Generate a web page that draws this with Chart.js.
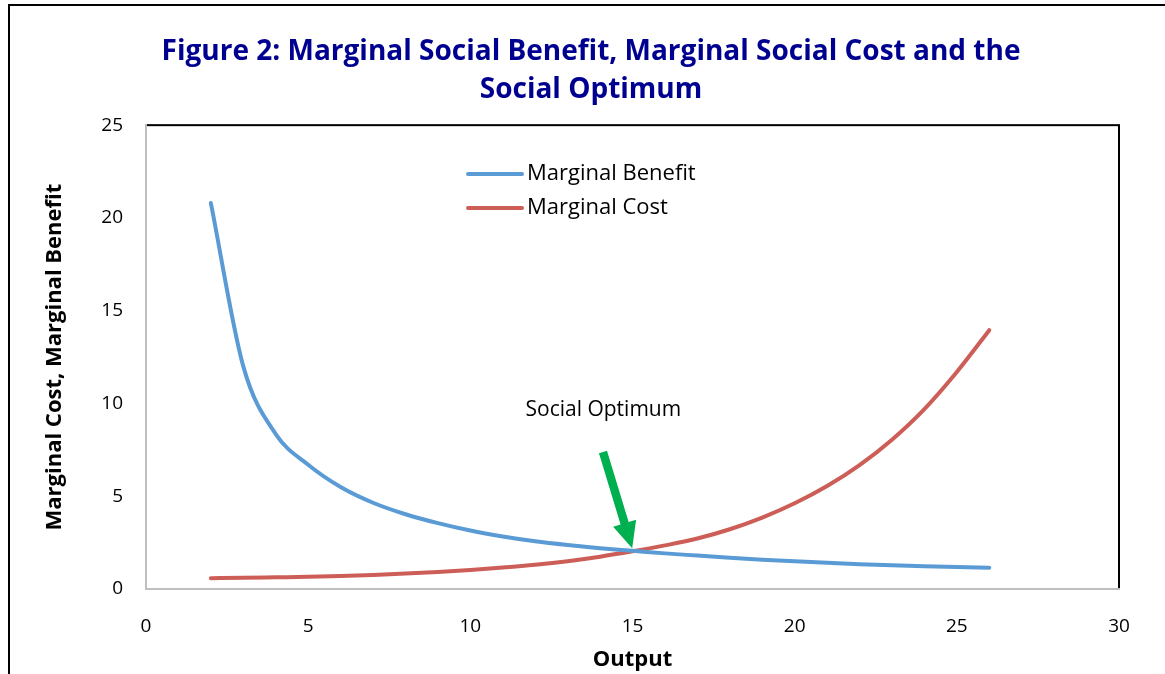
<!DOCTYPE html>
<html>
<head>
<meta charset="utf-8">
<script src="https://cdn.jsdelivr.net/npm/chart.js@4.4.1/dist/chart.umd.min.js"></script>
<style>
  html, body { margin: 0; padding: 0; background: #fff; }
  #wrap { width: 1165px; height: 674px; }
</style>
</head>
<body>
<div id="wrap"><canvas id="socialChart"></canvas></div>
<script>
// values
const outputs = [2, 3, 4, 5, 6, 7, 8, 9, 10, 11, 12, 13, 14, 15, 16, 17, 18, 19, 20, 21, 22, 23, 24, 25, 26];
const marginalBenefit = [20.8, 12.0, 8.35, 6.7, 5.5, 4.65, 4.03, 3.55, 3.15, 2.83, 2.57, 2.37, 2.2, 2.06, 1.92, 1.8, 1.68, 1.58, 1.49, 1.41, 1.34, 1.28, 1.23, 1.19, 1.15];
const marginalCost = [0.58, 0.6, 0.63, 0.66, 0.7, 0.76, 0.83, 0.92, 1.03, 1.16, 1.31, 1.5, 1.74, 2.03, 2.35, 2.72, 3.22, 3.85, 4.62, 5.55, 6.68, 8.05, 9.7, 11.7, 13.95];
const xTicks = [0, 5, 10, 15, 20, 25, 30];
const yTicks = [0, 5, 10, 15, 20, 25];
const seriesNames = ['Marginal Benefit', 'Marginal Cost'];

const titleLines = ['Figure 2: Marginal Social Benefit, Marginal Social Cost and the', 'Social Optimum'];
const xTitle = 'Output';
const yTitle = 'Marginal Cost, Marginal Benefit';

// where the "Social Optimum" note and arrow sit, in data units
const optimumNote = { text: 'Social Optimum', x: 14.1, y: 9.64 };
const optimumArrow = { fromX: 14.09, fromY: 7.38, toX: 14.99, toY: 2.2 };

const FONT = '"Open Sans", Lato, sans-serif';

function toPoints(ys) {
    return outputs.map((x, i) => ({ x: x, y: ys[i] }));
}

// outer frame and the black plot-area box (axes draw gray over left/bottom)
const framePlugin = {
    id: 'frame',
    beforeDraw(chart) {
        const ctx = chart.ctx;
        const a = chart.chartArea;
        ctx.save();
        ctx.strokeStyle = '#000';
        ctx.lineWidth = 2;
        ctx.beginPath();
        ctx.moveTo(9, chart.height + 5);
        ctx.lineTo(9, 5);
        ctx.lineTo(chart.width + 5, 5);
        ctx.stroke();
        ctx.strokeRect(a.left, a.top, a.right - a.left, a.bottom - a.top);
        ctx.restore();
    },
    afterLayout(chart) {
        // the title is centred a little right of the canvas middle
        if (chart.titleBlock) chart.titleBlock.left = 63;
    }
};

const insideLegend = {
    id: 'insideLegend',
    afterDatasetsDraw(chart, args, opts) {
        const ctx = chart.ctx;
        chart.data.datasets.forEach((ds, i) => {
            const y = opts.top + i * opts.rowHeight;
            ctx.save();
            ctx.strokeStyle = ds.borderColor;
            ctx.lineWidth = 4;
            ctx.lineCap = 'round';
            ctx.beginPath();
            ctx.moveTo(opts.left, y);
            ctx.lineTo(opts.left + opts.lineLength, y);
            ctx.stroke();
            ctx.fillStyle = '#000';
            ctx.font = opts.fontSize + 'px ' + FONT;
            ctx.textBaseline = 'middle';
            ctx.textAlign = 'left';
            ctx.fillText(ds.label, opts.left + opts.lineLength + 5, y);
            ctx.restore();
        });
    }
};

const optimumPlugin = {
    id: 'optimum',
    afterDatasetsDraw(chart) {
        const ctx = chart.ctx;
        const xs = chart.scales.x, ys = chart.scales.y;
        ctx.save();
        ctx.fillStyle = '#000';
        ctx.font = '21px ' + FONT;
        ctx.textAlign = 'center';
        ctx.textBaseline = 'middle';
        ctx.fillText(optimumNote.text, xs.getPixelForValue(optimumNote.x), ys.getPixelForValue(optimumNote.y));

        const x1 = xs.getPixelForValue(optimumArrow.fromX), y1 = ys.getPixelForValue(optimumArrow.fromY);
        const x2 = xs.getPixelForValue(optimumArrow.toX), y2 = ys.getPixelForValue(optimumArrow.toY);
        const ang = Math.atan2(y2 - y1, x2 - x1);
        const len = Math.hypot(x2 - x1, y2 - y1);
        const headLen = 26, headW = 12, shaftW = 4.2;
        ctx.translate(x1, y1);
        ctx.rotate(ang);
        ctx.fillStyle = '#00B050';
        ctx.beginPath();
        ctx.moveTo(0, -shaftW);
        ctx.lineTo(len - headLen, -shaftW);
        ctx.lineTo(len - headLen, -headW);
        ctx.lineTo(len, 0);
        ctx.lineTo(len - headLen, headW);
        ctx.lineTo(len - headLen, shaftW);
        ctx.lineTo(0, shaftW);
        ctx.closePath();
        ctx.fill();
        ctx.restore();
    }
};

const ctx = document.getElementById('socialChart').getContext('2d');
new Chart(ctx, {
    type: 'line',
    data: {
        datasets: [{
            label: seriesNames[0],
            data: toPoints(marginalBenefit),
            borderColor: '#5B9BD5',
            borderWidth: 4,
            borderCapStyle: 'round',
            pointRadius: 0,
            cubicInterpolationMode: 'monotone',
            fill: false
        }, {
            label: seriesNames[1],
            data: toPoints(marginalCost),
            borderColor: '#CD5E57',
            borderWidth: 4,
            borderCapStyle: 'round',
            pointRadius: 0,
            cubicInterpolationMode: 'monotone',
            fill: false
        }]
    },
    options: {
        responsive: true,
        maintainAspectRatio: false,
        animation: false,
        layout: { padding: { left: 40, right: 46, top: 0, bottom: 0 } },
        scales: {
            x: {
                type: 'linear',
                min: 0,
                max: 30,
                afterBuildTicks: s => { s.ticks = xTicks.map(v => ({ value: v })); },
                afterFit: s => { s.height = 85; },
                grid: { display: false, drawTicks: false },
                border: { display: true, color: '#BFBFBF', width: 2 },
                ticks: { color: '#000', padding: 26, font: { family: FONT, size: 19 } },
                title: {
                    display: true,
                    text: xTitle,
                    color: '#000',
                    padding: { top: 0, bottom: 1 },
                    font: { family: FONT, size: 22, weight: 'bold' }
                }
            },
            y: {
                min: 0,
                max: 25,
                afterBuildTicks: s => { s.ticks = yTicks.map(v => ({ value: v })); },
                afterFit: s => { s.width = 106; },
                grid: { display: false, drawTicks: false },
                border: { display: true, color: '#BFBFBF', width: 2 },
                ticks: { color: '#000', padding: 23, font: { family: FONT, size: 19 } },
                title: {
                    display: true,
                    text: yTitle,
                    color: '#000',
                    padding: { top: 2, bottom: 0 },
                    font: { family: FONT, size: 22, weight: 'bold' }
                }
            }
        },
        plugins: {
            legend: { display: false },
            tooltip: { enabled: false },
            title: {
                display: true,
                text: titleLines,
                color: '#000090',
                padding: { top: 33, bottom: 16 },
                font: { family: FONT, size: 28, weight: 'bold', lineHeight: 1.36 }
            },
            insideLegend: { left: 468, top: 174, rowHeight: 34, lineLength: 54, fontSize: 22 }
        }
    },
    plugins: [framePlugin, insideLegend, optimumPlugin]
});
</script>
</body>
</html>
